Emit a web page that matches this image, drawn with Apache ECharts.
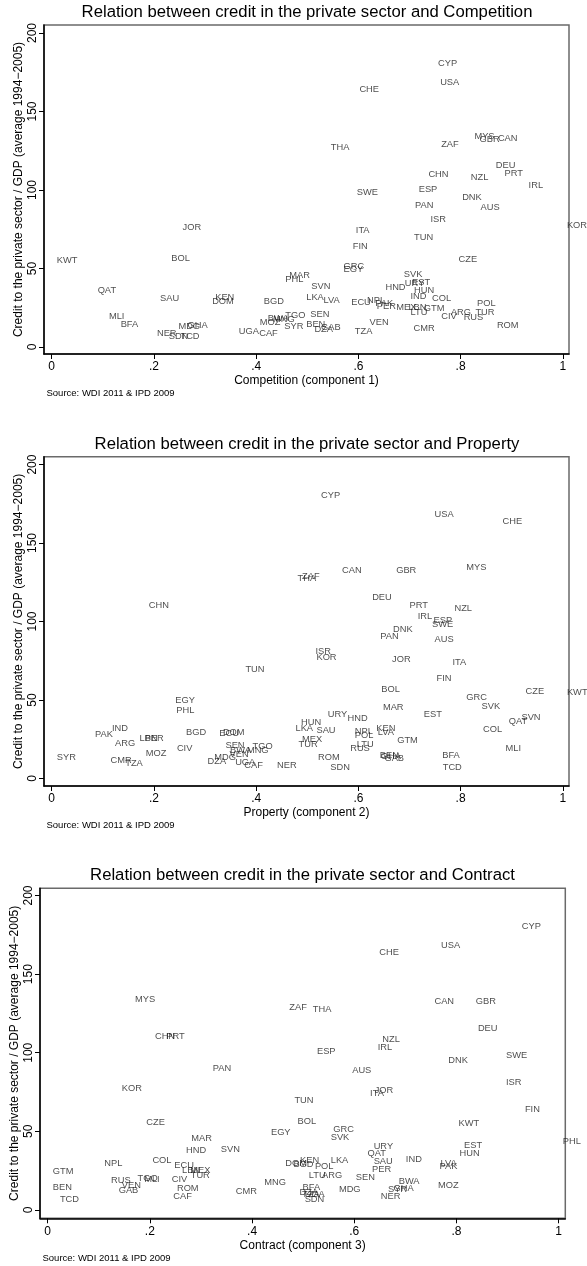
<!DOCTYPE html>
<html>
<head>
<meta charset="utf-8">
<script src="https://cdn.jsdelivr.net/npm/echarts@6/dist/echarts.min.js"></script>
<style>
html,body{margin:0;padding:0;background:#fff;}
#chart{width:587px;height:1266px;}
</style>
</head>
<body>
<div id="chart"></div>
<script>
// ---- DATA ----
const countries = [
 'CYP','USA','CHE','MYS','GBR','CAN','THA','ZAF','DEU','PRT',
 'CHN','NZL','IRL','SWE','ESP','DNK','PAN','AUS','ISR','KOR',
 'JOR','ITA','TUN','FIN','BOL','CZE','KWT','GRC','EGY','SVK',
 'MAR','PHL','EST','URY','SVN','HND','QAT','HUN','IND','LKA',
 'KEN','COL','SAU','NPL','LVA','DOM','BGD','ECU','PAK','POL',
 'PER','LBN','MEX','GTM','ARG','TUR','LTU','SEN','TGO','MLI',
 'CIV','RUS','BWA','MNG','MOZ','VEN','BFA','BEN','GHA','ROM',
 'SYR','MDG','GAB','CMR','DZA','UGA','TZA','CAF','NER','SDN','TCD'
];
// Credit to the private sector / GDP (average 1994-2005)
const credit = [
 180.3,168.5,163.8,134.2,132.4,132.6,127.3,129,115.4,110.3,
 110.2,108.3,103.2,98.3,100.6,95.2,90.2,88.7,81,77.1,
 75.9,74,69.7,63.9,56.5,55.7,54.8,51.4,49.6,45.9,
 45.5,43.3,40.8,40.7,38.8,38,36.1,35.7,32.1,31.6,
 31.6,31.2,30.6,29.9,29.5,29.3,29.1,28.6,28,27.7,
 25.5,25.2,25.1,24.5,22.1,21.8,21.9,20.9,20.1,19.4,
 19.2,19.1,18.1,17.8,15.7,15.6,14.6,14.4,14,13.5,
 13.3,13.2,12.7,11.7,11,10,9.7,8.4,8.5,7,6.8
];
// Competition (component 1)
const competition = [
 .753,.757,.599,.824,.834,.870,.543,.759,.866,.883,
 .734,.817,.930,.594,.715,.800,.708,.836,.738,1.005,
 .253,.592,.706,.586,.231,.793,.007,.568,.568,.686,
 .462,.454,.702,.688,.505,.650,.087,.706,.699,.495,
 .317,.741,.209,.614,.529,.311,.412,.583,.630,.829,
 .633,.695,.671,.725,.778,.826,.699,.503,.454,.109,
 .759,.803,.420,.430,.404,.619,.132,.495,.263,.868,
 .452,.245,.524,.705,.511,.363,.590,.403,.203,.226,.249
];
// Property (component 2)
const property = [
 .524,.746,.879,.808,.671,.565,.478,.487,.624,.697,
 .187,.785,.713,.741,.744,.665,.640,.746,.513,.515,
 .663,.781,.376,.750,.642,.924,1.005,.808,.239,.838,
 .645,.241,.725,.537,.916,.576,.891,.485,.115,.474,
 .632,.841,.515,.590,.635,.332,.260,.325,.082,.590,
 .179,.169,.487,.673,.121,.480,.594,.337,.390,.885,
 .242,.581,.346,.379,.181,.345,.761,.639,.641,.518,
 .007,.315,.648,.112,.302,.356,.141,.374,.438,.542,.762
];
// Contract (component 3)
const contract = [
 .925,.767,.646,.168,.835,.754,.516,.470,.839,.229,
 .207,.652,.643,.894,.524,.781,.320,.593,.894,.142,
 .637,.628,.480,.931,.486,.190,.801,.556,.434,.551,
 .278,1.005,.812,.635,.336,.268,.623,.803,.698,.551,
 .491,.202,.635,.108,.766,.462,.478,.245,.764,.520,
 .632,.260,.276,.007,.534,.277,.508,.600,.173,.186,
 .240,.121,.684,.421,.761,.142,.496,.007,.674,.250,
 .663,.567,.136,.365,.490,.500,.495,.243,.649,.500,.021
];
const titles = [
 'Relation between credit in the private sector and Competition',
 'Relation between credit in the private sector and Property',
 'Relation between credit in the private sector and Contract'
];
const xNames = ['Competition (component 1)','Property (component 2)','Contract (component 3)'];
const yName = 'Credit to the private sector / GDP (average 1994\u22122005)';
const sourceNote = 'Source: WDI 2011 & IPD 2009';
const xTicks = [0,0.2,0.4,0.6,0.8,1];
const xTickLabels = ['0','.2','.4','.6','.8','1'];
const yTicks = [0,50,100,150,200];
const yTickLabels = ['0','50','100','150','200'];

// ---- LAYOUT ----
const FONT = 'Liberation Sans, Arial, Helvetica, sans-serif';
const layout = [
 {left:44, top:25, width:525, height:329, xmin:-0.015, xmax:1.012, ymin:-4.5, ymax:205.1, titleX:307, titleY:12.5},
 {left:44, top:456.7, width:525, height:329.3, xmin:-0.015, xmax:1.012, ymin:-4.8, ymax:205, titleX:307, titleY:444},
 {left:40, top:888.3, width:525.3, height:330, xmin:-0.015, xmax:1.013, ymin:-5.3, ymax:204.6, titleX:302.5, titleY:875}
];
const xSeries = [competition, property, contract];

const grids=[], xAxes=[], yAxes=[], series=[], graphics=[];
layout.forEach((L,i)=>{
  grids.push({left:L.left, top:L.top, width:L.width, height:L.height, show:true,
    borderColor:'#6a6a6a', borderWidth:1.5, backgroundColor:'#fff',
    containLabel:false, outerBoundsMode:'none'});
  xAxes.push({type:'value', gridIndex:i, min:L.xmin, max:L.xmax,
    name:xNames[i], nameLocation:'middle', nameGap:21, nameMoveOverlap:false,
    nameTextStyle:{fontSize:12, color:'#000', fontFamily:FONT, verticalAlign:'top'},
    axisLine:{show:true, onZero:false, lineStyle:{color:'#000', width:1.5}},
    axisTick:{show:true, length:5, customValues:xTicks, lineStyle:{color:'#000', width:1}},
    axisLabel:{show:true, customValues:xTicks, margin:7, fontSize:12, color:'#000', fontFamily:FONT,
      formatter:(v)=>{const k=xTicks.findIndex(t=>Math.abs(t-v)<1e-9); return k>=0?xTickLabels[k]:'';}},
    splitLine:{show:false}});
  yAxes.push({type:'value', gridIndex:i, min:L.ymin, max:L.ymax,
    name:yName, nameLocation:'middle', nameGap:19, nameRotate:90, nameMoveOverlap:false,
    nameTextStyle:{fontSize:12, color:'#000', fontFamily:FONT},
    axisLine:{show:true, onZero:false, lineStyle:{color:'#000', width:1.5}},
    axisTick:{show:true, length:5, customValues:yTicks, lineStyle:{color:'#000', width:1}},
    axisLabel:{show:true, customValues:yTicks, rotate:90, margin:5.5, fontSize:12, color:'#000', fontFamily:FONT,
      formatter:(v)=>{const k=yTicks.findIndex(t=>Math.abs(t-v)<1e-9); return k>=0?yTickLabels[k]:'';}},
    splitLine:{show:false}});
  series.push({type:'scatter', xAxisIndex:i, yAxisIndex:i, symbol:'circle', symbolSize:1, silent:true,
    itemStyle:{color:'rgba(255,255,255,0)'},
    data: countries.map((c,k)=>[xSeries[i][k], credit[k], c]),
    label:{show:true, position:'right', distance:1, formatter:(p)=>p.data[2],
      fontSize:9.3, color:'#1a1a1a', fontFamily:FONT},
    labelLayout:{hideOverlap:false}});
  graphics.push({type:'text', x:L.titleX, y:L.titleY, silent:true,
    style:{text:titles[i], fontSize:16.7, fill:'#000', fontFamily:FONT, align:'center', verticalAlign:'middle'}});
  graphics.push({type:'text', x:L.left+2.5, y:L.top+L.height+39.7, silent:true,
    style:{text:sourceNote, fontSize:9.5, fill:'#000', fontFamily:FONT, align:'left', verticalAlign:'middle'}});
});

const chart = echarts.init(document.getElementById('chart'), null, {renderer:'canvas'});
chart.setOption({
  backgroundColor:'#fff', animation:false,
  grid:grids, xAxis:xAxes, yAxis:yAxes, series:series, graphic:graphics
});
</script>
</body>
</html>
